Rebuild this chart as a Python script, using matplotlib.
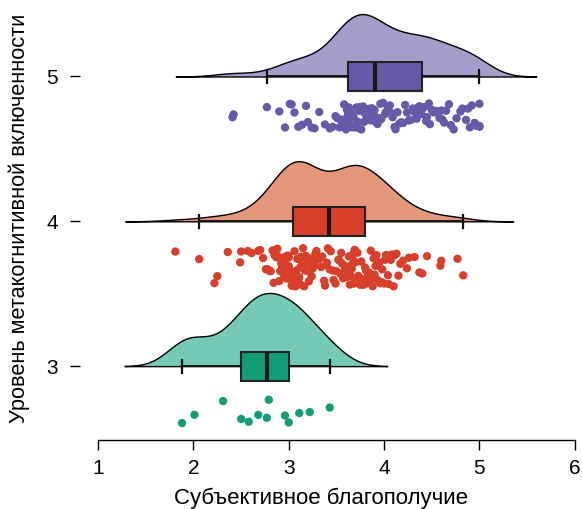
import numpy as np
import matplotlib.pyplot as plt

# Raincloud plot: half-violin + boxplot + jittered points
levels = [3, 4, 5]
tick_labels = ["3", "4", "5"]

wellbeing_3 = [1.88, 2.01, 2.31, 2.50, 2.58, 2.68, 2.77, 2.79, 2.96, 3.00, 3.11, 3.22, 3.43]

wellbeing_4 = [
    1.81, 2.06, 2.22, 2.25, 2.36, 2.49, 2.50, 2.57, 2.61, 2.68, 2.70, 2.73,
    2.76, 2.78, 2.80, 2.81, 2.83, 2.84, 2.85, 2.87, 2.88, 2.89, 2.90, 2.91, 2.92, 2.93,
    2.94, 2.95, 2.96, 2.97, 2.97, 2.98, 2.99, 3.00, 3.00, 3.01, 3.02, 3.02, 3.03, 3.04,
    3.05, 3.06, 3.07, 3.08, 3.08, 3.09, 3.10, 3.10, 3.11, 3.12, 3.12, 3.13, 3.14, 3.14,
    3.15, 3.16, 3.16, 3.17, 3.18, 3.18, 3.19, 3.20, 3.21, 3.22, 3.23, 3.24, 3.25, 3.26,
    3.27, 3.28, 3.29, 3.31, 3.32, 3.34, 3.35, 3.37, 3.38, 3.39, 3.40, 3.41,
    3.43, 3.44, 3.46, 3.47, 3.49, 3.50, 3.52, 3.53, 3.54, 3.55, 3.56, 3.57, 3.58, 3.59,
    3.60, 3.61, 3.62, 3.63, 3.63, 3.64, 3.65, 3.66, 3.66, 3.67, 3.68, 3.68, 3.69, 3.70,
    3.70, 3.71, 3.72, 3.72, 3.73, 3.74, 3.75, 3.76, 3.77, 3.78, 3.79, 3.80,
    3.81, 3.82, 3.83, 3.84, 3.85, 3.86, 3.87, 3.88, 3.89, 3.90, 3.91, 3.92, 3.93, 3.95,
    3.96, 3.97, 3.98, 4.00, 4.01, 4.02, 4.04, 4.05, 4.07, 4.08, 4.10, 4.11, 4.13, 4.15,
    4.17, 4.20, 4.24, 4.26, 4.32, 4.37, 4.40, 4.45, 4.59, 4.60, 4.77, 4.83,
]

wellbeing_5 = [
    2.41, 2.42, 2.77, 2.90, 2.96, 3.01, 3.03, 3.06, 3.10, 3.14, 3.18, 3.20, 3.24, 3.27,
    3.32, 3.38, 3.43, 3.46, 3.49, 3.51, 3.53, 3.55, 3.56, 3.57, 3.58, 3.59, 3.60, 3.61,
    3.62, 3.62, 3.63, 3.64, 3.65, 3.66, 3.67, 3.68, 3.69, 3.70, 3.71, 3.72, 3.73, 3.74,
    3.75, 3.76, 3.77, 3.78, 3.79, 3.80, 3.81, 3.82, 3.83, 3.84, 3.85, 3.86, 3.87, 3.88,
    3.89, 3.90, 3.91, 3.93, 3.94, 3.96, 3.97, 3.99, 4.01, 4.02, 4.04, 4.06, 4.07, 4.09,
    4.11, 4.12, 4.14, 4.16, 4.18, 4.20, 4.22, 4.24, 4.26, 4.28, 4.30, 4.32, 4.34, 4.36,
    4.37, 4.38, 4.39, 4.40, 4.42, 4.44, 4.45, 4.47, 4.48, 4.50, 4.52, 4.55, 4.58, 4.60,
    4.61, 4.63, 4.65, 4.68, 4.70, 4.73, 4.76, 4.80, 4.82, 4.86, 4.88, 4.90, 4.92, 4.95,
    4.97, 5.00, 5.00, 5.00,
]

groups = [wellbeing_3, wellbeing_4, wellbeing_5]
cloud_colors = ["#75C9B7", "#E4967A", "#A69CC9"]
dark_colors = ["#129D78", "#D73F2A", "#6758A8"]

plt.rcParams["font.family"] = ["Liberation Sans", "DejaVu Sans"]


def kde_nrd0(values, n_grid=512):
    # gaussian KDE with R's default bandwidth (bw.nrd0), cut = 3 * bw
    v = np.asarray(values, dtype=float)
    q1, q3 = np.percentile(v, [25, 75])
    bw = 0.9 * min(v.std(ddof=1), (q3 - q1) / 1.34) * len(v) ** -0.2
    grid = np.linspace(v.min() - 3 * bw, v.max() + 3 * bw, n_grid)
    dens = np.exp(-0.5 * ((grid[:, None] - v[None, :]) / bw) ** 2).sum(axis=1)
    dens /= len(v) * bw * np.sqrt(2 * np.pi)
    return grid, dens


def jitter(n, seed):
    # deterministic pseudo-random offsets in [-1, 1]
    i = np.arange(n) + seed * 101
    return 2 * (np.abs(np.sin(i * 12.9898 + 78.233) * 43758.5453) % 1) - 1


fig = plt.figure(figsize=(5.82, 5.09), dpi=100)
ax = fig.add_axes([0.1375, 0.1356, 0.855, 0.845])

density_scale = 0.6
jitter_center = [-0.31, -0.32, -0.275]
jitter_half = [0.09, 0.135, 0.095]

for k, (lvl, vals) in enumerate(zip(levels, groups)):
    grid, dens = kde_nrd0(vals)
    ax.fill_between(grid, lvl, lvl + dens * density_scale, facecolor=cloud_colors[k],
                    edgecolor="black", linewidth=1.0, zorder=1)

    ax.boxplot(vals, positions=[lvl], orientation="horizontal", widths=0.2,
               capwidths=0.09, showfliers=False, patch_artist=True, whis=1.5,
               boxprops=dict(facecolor=dark_colors[k], edgecolor="#222222", linewidth=1.5),
               medianprops=dict(color="#1a1a1a", linewidth=3),
               whiskerprops=dict(color="#111111", linewidth=1.3),
               capprops=dict(color="#111111", linewidth=1.6),
               zorder=3)

    yj = lvl + jitter_center[k] + jitter_half[k] * jitter(len(vals), k + 1)
    ax.scatter(vals, yj, s=36, color=dark_colors[k], edgecolors="none", zorder=2)

ax.set_xlim(0.81, 6.03)
ax.set_ylim(2.49, 5.46)
ax.set_xticks([1, 2, 3, 4, 5, 6])
ax.set_xticklabels(["1", "2", "3", "4", "5", "6"])
ax.set_yticks(levels)
ax.set_yticklabels(tick_labels)

for side in ["top", "right", "left"]:
    ax.spines[side].set_visible(False)
ax.spines["bottom"].set_bounds(1, 6)
ax.spines["bottom"].set_linewidth(1.0)
ax.tick_params(axis="both", labelsize=15, length=7, width=1.0)
ax.tick_params(axis="x", pad=7)
ax.tick_params(axis="y", pad=9)

ax.set_xlabel("Субъективное благополучие", fontsize=16)
ax.set_ylabel("Уровень метакогнитивной включенности", fontsize=15.7)
ax.xaxis.set_label_coords(0.485, -0.11)
ax.yaxis.set_label_coords(-0.10, 0.515)

fig.savefig("out.png", dpi=100)
